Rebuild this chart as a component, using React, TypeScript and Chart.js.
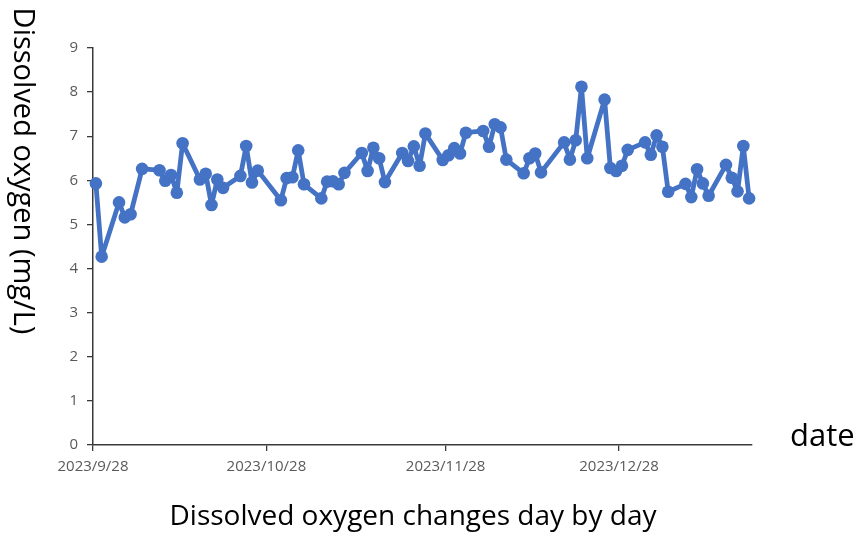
import { useEffect, useRef } from 'react';
import { Chart, registerables } from 'chart.js';

Chart.register(...registerables);

const axisStart = '2023-09-28';
const axisEnd = '2024-01-20';

const dates = [
  '2023-09-28', '2023-09-29', '2023-10-02', '2023-10-03', '2023-10-04', '2023-10-06',
  '2023-10-09', '2023-10-10', '2023-10-11', '2023-10-12', '2023-10-13',
  '2023-10-16', '2023-10-17', '2023-10-18', '2023-10-19', '2023-10-20',
  '2023-10-23', '2023-10-24', '2023-10-25', '2023-10-26',
  '2023-10-30', '2023-10-31', '2023-11-01', '2023-11-02', '2023-11-03',
  '2023-11-06', '2023-11-07', '2023-11-08', '2023-11-09', '2023-11-10',
  '2023-11-13', '2023-11-14', '2023-11-15', '2023-11-16', '2023-11-17',
  '2023-11-20', '2023-11-21', '2023-11-22', '2023-11-23', '2023-11-24',
  '2023-11-27', '2023-11-28', '2023-11-29', '2023-11-30', '2023-12-01',
  '2023-12-04', '2023-12-05', '2023-12-06', '2023-12-07', '2023-12-08',
  '2023-12-11', '2023-12-12', '2023-12-13', '2023-12-14',
  '2023-12-18', '2023-12-19', '2023-12-20', '2023-12-21', '2023-12-22',
  '2023-12-25', '2023-12-26', '2023-12-27', '2023-12-28', '2023-12-29',
  '2024-01-01', '2024-01-02', '2024-01-03', '2024-01-04', '2024-01-05',
  '2024-01-08', '2024-01-09', '2024-01-10', '2024-01-11', '2024-01-12',
  '2024-01-15', '2024-01-16', '2024-01-17', '2024-01-18', '2024-01-19',
];

const doValues = [
  5.93, 4.27, 5.50, 5.16, 5.23, 6.26,
  6.23, 5.99, 6.12, 5.72, 6.84,
  6.02, 6.15, 5.44, 6.02, 5.83,
  6.10, 6.78, 5.95, 6.22,
  5.55, 6.05, 6.07, 6.68, 5.91,
  5.59, 5.97, 5.98, 5.91, 6.17,
  6.62, 6.21, 6.74, 6.50, 5.96,
  6.62, 6.44, 6.77, 6.33, 7.06,
  6.46, 6.57, 6.73, 6.61, 7.08,
  7.12, 6.76, 7.27, 7.20, 6.47,
  6.16, 6.50, 6.61, 6.18,
  6.86, 6.47, 6.91, 8.12, 6.50,
  7.83, 6.28, 6.21, 6.33, 6.69,
  6.86, 6.58, 7.02, 6.76, 5.74,
  5.92, 5.62, 6.25, 5.93, 5.65,
  6.35, 6.06, 5.75, 6.78, 5.59,
];

const tickDates = ['2023-09-28', '2023-10-28', '2023-11-28', '2023-12-28'];
const tickLabels = ['2023/9/28', '2023/10/28', '2023/11/28', '2023/12/28'];
const yTicks = [0, 1, 2, 3, 4, 5, 6, 7, 8, 9];

const yTitle = 'Dissolved oxygen (mg/L)';
const xTitle = 'Dissolved oxygen changes day by day';
const sideLabel = 'date';

const toUTC = (s: string) => {
  const [y, m, d] = s.split('-').map(Number);
  return Date.UTC(y, m - 1, d);
};
const dayOf = (s: string) => (toUTC(s) - toUTC(axisStart)) / 86400000;

const FONT = '"Open Sans", "Noto Sans", sans-serif';

const titlePlugin = {
  id: 'customTitles',
  afterDraw(chart: any) {
    const { ctx, chartArea } = chart;
    ctx.save();
    ctx.fillStyle = '#000000';
    // rotated y title (reads top to bottom)
    ctx.font = `29px ${FONT}`;
    ctx.textAlign = 'center';
    ctx.textBaseline = 'middle';
    ctx.save();
    ctx.translate(22, 171);
    ctx.rotate(Math.PI / 2);
    ctx.fillText(yTitle, 0, 0);
    ctx.restore();
    // bottom title
    ctx.font = `28px ${FONT}`;
    ctx.fillText(xTitle, 413, 517);
    // side label
    ctx.font = `31px ${FONT}`;
    ctx.textAlign = 'left';
    ctx.fillText(sideLabel, chartArea.right + 38, 437);
    ctx.restore();
  },
};

export default function App() {
  const ref = useRef<HTMLCanvasElement | null>(null);

  useEffect(() => {
    if (!ref.current) return;
    const points = dates.map((d, i) => ({ x: dayOf(d) + 0.5, y: doValues[i] }));
    const tickDays = tickDates.map(dayOf);
    const axisColor = '#3a3a3a';
    const chart = new Chart(ref.current, {
      type: 'line',
      data: {
        datasets: [
          {
            data: points,
            borderColor: '#4472C4',
            backgroundColor: '#4472C4',
            borderWidth: 4.8,
            borderJoinStyle: 'round',
            borderCapStyle: 'round',
            pointRadius: 6.3,
            pointHoverRadius: 6.3,
            pointBackgroundColor: '#4472C4',
            pointBorderWidth: 0,
            tension: 0,
            clip: false,
          } as any,
        ],
      },
      options: {
        animation: false,
        responsive: false,
        events: [],
        layout: { padding: { left: 53, top: 48, right: 106, bottom: 49 } },
        plugins: {
          legend: { display: false },
          tooltip: { enabled: false },
        },
        scales: {
          x: {
            type: 'linear',
            min: 0,
            max: dayOf(axisEnd),
            afterBuildTicks: (s: any) => {
              s.ticks = tickDays.map((v) => ({ value: v }));
            },
            afterFit: (s: any) => {
              s.height = 40;
            },
            ticks: {
              autoSkip: false,
              maxRotation: 0,
              minRotation: 0,
              padding: 7,
              color: '#595959',
              font: { family: FONT, size: 15 },
              callback: (_v: any, i: number) => tickLabels[i],
            },
            grid: {
              display: true,
              drawOnChartArea: false,
              drawTicks: true,
              tickLength: 6,
              color: axisColor,
              lineWidth: 1.3,
            },
            border: { display: true, color: axisColor, width: 1.5 },
          },
          y: {
            type: 'linear',
            min: 0,
            max: 9,
            afterBuildTicks: (s: any) => {
              s.ticks = yTicks.map((v) => ({ value: v }));
            },
            afterFit: (s: any) => {
              s.width = 40;
            },
            ticks: {
              padding: 9,
              color: '#595959',
              font: { family: FONT, size: 15 },
              callback: (v: any) => String(v),
            },
            grid: {
              display: true,
              drawOnChartArea: false,
              drawTicks: true,
              tickLength: 6,
              color: axisColor,
              lineWidth: 1.3,
            },
            border: { display: true, color: axisColor, width: 1.5 },
          },
        },
      } as any,
      plugins: [titlePlugin],
    });
    return () => chart.destroy();
  }, []);

  return (
    <div style={{ position: 'fixed', left: 0, top: 0, width: 858, height: 534, background: '#ffffff' }}>
      <canvas ref={ref} width={858} height={534} style={{ display: 'block' }} />
    </div>
  );
}
